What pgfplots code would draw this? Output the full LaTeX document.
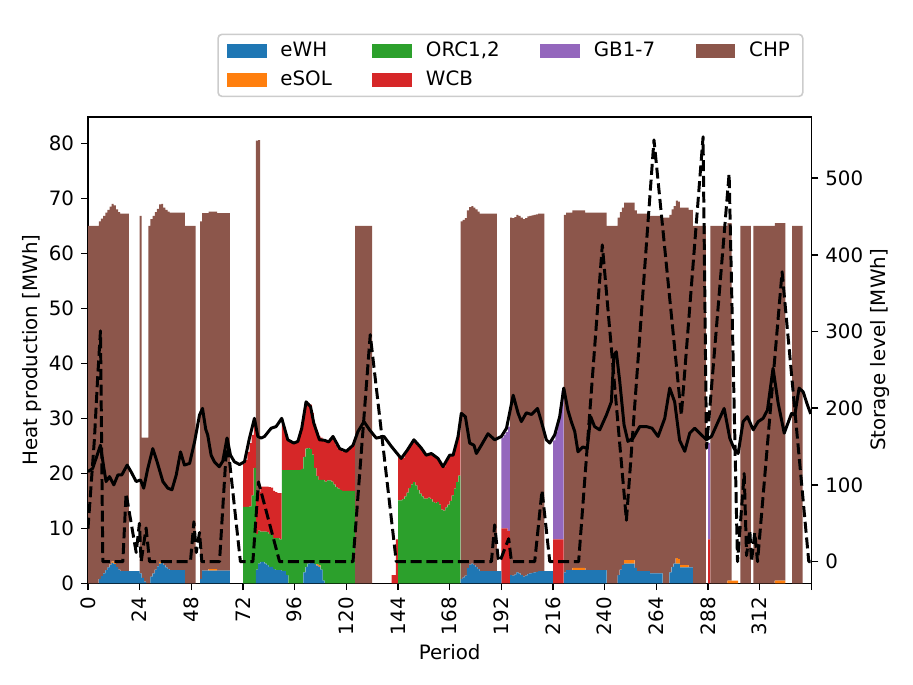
\documentclass[border=0pt]{standalone}
\usepackage{fontspec}
\setmainfont{DejaVu Sans}
\usepackage{pgfplots}
\usepackage{pgfplotstable}
\pgfplotsset{compat=1.18}
\definecolor{tabblue}{HTML}{1F77B4}
\definecolor{taborange}{HTML}{FF7F0E}
\definecolor{tabgreen}{HTML}{2CA02C}
\definecolor{tabred}{HTML}{D62728}
\definecolor{tabpurple}{HTML}{9467BD}
\definecolor{tabbrown}{HTML}{8C564B}

\pgfplotstableread{
p wh sol orc wcb gb chp
0 0 0 0 0 0 65
1 0 0 0 0 0 65
2 0 0 0 0 0 65
3 0 0 0 0 0 65
4 0 0 0 0 0 65
5 0.8 0 0 0 0 65
6 1.3 0 0 0 0 65
7 1.8 0 0 0 0 65
8 2.4 0 0 0 0 65
9 2.9 0 0 0 0 65
10 3.4 0.1 0 0 0 65
11 3.7 0.3 0 0 0 65
12 3.5 0.2 0 0 0 65
13 3.0 0 0 0 0 65
14 2.5 0 0 0 0 65
15 2.2 0 0 0 0 65
16 2.2 0 0 0 0 65
17 2.2 0 0 0 0 65
18 2.2 0 0 0 0 65
19 2.2 0 0 0 0 0
20 2.2 0 0 0 0 0
21 2.2 0 0 0 0 0
22 2.2 0 0 0 0 0
23 2.2 0 0 0 0 0
24 1.8 0 0 0 0 65
25 1.0 0 0 0 0 25.5
26 0.3 0 0 0 0 26.2
27 0 0 0 0 0 26.5
28 0 0 0 0 0 65
29 1.2 0 0 0 0 65
30 1.8 0 0 0 0 65
31 2.5 0 0 0 0 65
32 3.1 0 0 0 0 65
33 3.6 0.3 0 0 0 65
34 3.7 0.3 0 0 0 65
35 3.3 0 0 0 0 65
36 2.9 0 0 0 0 65
37 2.6 0 0 0 0 65
38 2.4 0 0 0 0 65
39 2.4 0 0 0 0 65
40 2.4 0 0 0 0 65
41 2.4 0 0 0 0 65
42 2.4 0 0 0 0 65
43 2.4 0 0 0 0 65
44 2.4 0 0 0 0 65
45 0 0 0 0 0 65
46 0 0 0 0 0 65
47 0 0 0 0 0 65
48 0 0 0 0 0 65
49 0 0 0 0 0 65
50 0 0 0 0 0 0
51 0 0 0 0 0 0
52 0.8 0 0 0 0 65
53 2.3 0 0 0 0 65
54 2.3 0 0 0 0 65
55 2.3 0 0 0 0 65
56 2.3 0.3 0 0 0 65
57 2.3 0.3 0 0 0 65
58 2.3 0.3 0 0 0 65
59 2.3 0.3 0 0 0 65
60 2.3 0 0 0 0 65
61 2.3 0 0 0 0 65
62 2.3 0 0 0 0 65
63 2.3 0 0 0 0 65
64 2.3 0 0 0 0 65
65 2.3 0 0 0 0 65
66 0 0 0 0 0 0
67 0 0 0 0 0 0
68 0 0 0 0 0 0
69 0 0 0 0 0 0
70 0 0 0 0 0 0
71 0 0 0 0 0 0
72 0 0 13.9 7.9 0 0
73 0 0 13.9 8.5 0 0
74 0 0 13.9 10 0 0
75 0 0 14 11.5 0 0
76 0 0 16 11 0 0
77 0 0 21 9 0 0
78 2.5 0 6.5 7 0 64.5
79 3.6 0 6 7 0 64
80 3.9 0 5.5 8.2 0 0
81 3.9 0 5.5 8.2 0 0
82 3.6 0 5.8 8.2 0 0
83 3.3 0 6.0 8.3 0 0
84 3.0 0 6.0 8.5 0 0
85 3.0 0 5.8 8.6 0 0
86 2.6 0 5.6 8.6 0 0
87 2.4 0 5.8 8.4 0 0
88 2.4 0 5.8 8.2 0 0
89 2.4 0 5.6 8.4 0 0
90 2.2 0 18.4 8.4 0 0
91 2.2 0 18.4 6.9 0 0
92 1.5 0 19.1 5.9 0 0
93 0 0 20.6 5.4 0 0
94 0 0 20.6 5.1 0 0
95 0 0 20.6 5.0 0 0
96 0 0 20.6 5.1 0 0
97 0 0 20.6 5.4 0 0
98 0 0 20.6 6.4 0 0
99 0 0 20.8 7.7 0 0
100 2.0 0 21 8 0 0
101 3.0 0 21.5 8.5 0 0
102 3.6 0 21 8.2 0 0
103 3.9 0 20.5 8.1 0 0
104 3.9 0 19.5 7.6 0 0
105 3.5 0 17.5 8 0 0
106 3.2 0.3 16 8 0 0
107 3.0 0.3 15.5 8 0 0
108 2.5 0 16.3 7.7 0 0
109 0.5 0 18.3 7.2 0 0
110 0 0 18.5 7.5 0 0
111 0 0 18.7 7.3 0 0
112 0 0 18.7 7.6 0 0
113 0 0 18.5 8.2 0 0
114 0 0 18 8 0 0
115 0 0 17.5 7.7 0 0
116 0 0 17.2 7.3 0 0
117 0 0 17 7.2 0 0
118 0 0 16.8 7.2 0 0
119 0 0 16.8 7.2 0 0
120 0 0 16.8 7.4 0 0
121 0 0 16.8 7.7 0 0
122 0 0 16.8 8 0 0
123 0 0 16.8 8.4 0 0
124 0 0 0 0 0 65
125 0 0 0 0 0 65
126 0 0 0 0 0 65
127 0 0 0 0 0 65
128 0 0 0 0 0 65
129 0 0 0 0 0 65
130 0 0 0 0 0 65
131 0 0 0 0 0 65
132 0 0 0 0 0 0
133 0 0 0 0 0 0
134 0 0 0 0 0 0
135 0 0 0 0 0 0
136 0 0 0 0 0 0
137 0 0 0 0 0 0
138 0 0 0 0 0 0
139 0 0 0 0 0 0
140 0 0 0 0 0 0
141 0 0 0 1.5 0 0
142 0 0 0 1.5 0 0
143 0 0 0 8 0 0
144 0 0 15.1 8.2 0 0
145 0 0 15.1 7.6 0 0
146 0 0 15.3 7.5 0 0
147 0 0 15.8 7.8 0 0
148 0 0 16.5 7.8 0 0
149 0 0 17.3 7.9 0 0
150 0 0 18 7.8 0 0
151 0 0 18.4 7.7 0 0
152 0 0 17.8 7.8 0 0
153 0 0 17 8 0 0
154 0 0 16.3 8.3 0 0
155 0 0 15.8 8.3 0 0
156 0 0 15.4 8.2 0 0
157 0 0 15.4 7.9 0 0
158 0 0 15.6 7.8 0 0
159 0 0 15.3 8.3 0 0
160 0 0 14.8 8.5 0 0
161 0 0 14.6 8.4 0 0
162 0 0 14.8 7.9 0 0
163 0 0 14.3 7.7 0 0
164 0 0 13.4 8 0 0
165 0 0 13.2 8 0 0
166 0 0 13.8 8.3 0 0
167 0 0 14.3 8.7 0 0
168 0 0 15 8.2 0 0
169 0 0 16 7.3 0 0
170 0 0 17.2 7.6 0 0
171 0 0 18.4 8.1 0 0
172 0 0 19.6 8.4 0 0
173 0.8 0 0 0 0 65
174 1.1 0 0 0 0 65
175 1.4 0 0 0 0 65
176 2.8 0 0 0 0 65
177 3.4 0 0 0 0 65
178 3.6 0 0 0 0 65
179 3.3 0 0 0 0 65
180 3.0 0 0 0 0 65
181 2.6 0 0 0 0 65
182 2.2 0 0 0 0 65
183 2.2 0 0 0 0 65
184 2.2 0 0 0 0 65
185 2.2 0 0 0 0 65
186 2.2 0 0 0 0 65
187 2.2 0 0 0 0 65
188 2.2 0 0 0 0 65
189 2.2 0 0 0 0 65
190 2.2 0 0 0 0 0
191 2.2 0 0 0 0 0
192 0 0 0 10 16.5 0
193 0 0 0 10 17 0
194 0 0 0 10 17.5 0
195 0 0 0 9.5 19 0
196 1.5 0 0 0 0 65
197 1.4 0 0 0 0 65
198 1.6 0 0 0 0 65
199 2.0 0 0 0 0 65
200 1.8 0 0 0 0 65
201 1.5 0 0 0 0 65
202 1.2 0 0 0 0 65
203 1.4 0 0 0 0 65
204 1.7 0 0 0 0 65
205 1.8 0 0 0 0 65
206 1.9 0 0 0 0 65
207 2.0 0 0 0 0 65
208 2.1 0 0 0 0 65
209 2.2 0 0 0 0 65
210 2.2 0 0 0 0 65
211 2.2 0 0 0 0 65
212 2.2 0 0 0 0 0
213 2.2 0 0 0 0 0
214 2.2 0 0 0 0 0
215 2.2 0 0 0 0 0
216 0 0 0 8 18 0
217 0 0 0 8 19.5 0
218 0 0 0 8 21.5 0
219 0 0 0 8 24 0
220 0 0 0 8 27 0
221 2.0 0 0 0 0 65
222 2.4 0 0 0 0 65
223 2.4 0 0 0 0 65
224 2.4 0 0 0 0 65
225 2.4 0.4 0 0 0 65
226 2.4 0.4 0 0 0 65
227 2.4 0.4 0 0 0 65
228 2.4 0.4 0 0 0 65
229 2.4 0.4 0 0 0 65
230 2.4 0.4 0 0 0 65
231 2.4 0 0 0 0 65
232 2.4 0 0 0 0 65
233 2.4 0 0 0 0 65
234 2.4 0 0 0 0 65
235 2.4 0 0 0 0 65
236 2.4 0 0 0 0 65
237 2.4 0 0 0 0 65
238 2.4 0 0 0 0 65
239 2.4 0 0 0 0 65
240 2.4 0 0 0 0 65
241 0 0 0 0 0 65
242 0 0 0 0 0 65
243 0 0 0 0 0 65
244 0 0 0 0 0 65
245 0 0 0 0 0 65
246 1.5 0 0 0 0 65
247 2.5 0 0 0 0 65
248 3.3 0 0 0 0 65
249 3.6 0.6 0 0 0 65
250 3.6 0.6 0 0 0 65
251 3.6 0.6 0 0 0 65
252 3.6 0.6 0 0 0 65
253 3.6 0.6 0 0 0 65
254 2.8 0 0 0 0 65
255 2.2 0 0 0 0 65
256 2.2 0 0 0 0 65
257 2.2 0 0 0 0 65
258 2.2 0 0 0 0 65
259 2.2 0 0 0 0 65
260 2.2 0 0 0 0 65
261 1.8 0 0 0 0 65
262 1.8 0 0 0 0 65
263 1.8 0 0 0 0 65
264 1.8 0 0 0 0 65
265 1.8 0 0 0 0 65
266 1.8 0 0 0 0 65
267 0 0 0 0 0 66.5
268 0 0 0 0 0 66.5
269 0 0 0 0 0 66.5
270 2.0 0 0 0 0 65
271 3.0 0 0 0 0 65
272 3.6 0 0 0 0 65
273 3.6 1.0 0 0 0 65
274 3.6 0.8 0 0 0 65
275 2.9 0.4 0 0 0 65
276 2.9 0.4 0 0 0 65
277 2.9 0.4 0 0 0 65
278 2.9 0.4 0 0 0 65
279 2.9 0 0 0 0 65
280 2.9 0 0 0 0 65
281 0 0 0 0 0 65
282 0 0 0 0 0 65
283 0 0 0 0 0 65
284 0 0 0 0 0 65
285 0 0 0 0 0 65
286 0 0 0 0 0 65
287 0 0 0 0 0 0
288 0 0 0 8 17.5 0
289 0 0 0 0 0 65
290 0 0 0 0 0 65
291 0 0 0 0 0 65
292 0 0 0 0 0 65
293 0 0 0 0 0 65
294 0 0 0 0 0 65
295 0 0 0 0 0 65
296 0 0 0 0 0 65
297 0 0.5 0 0 0 65
298 0 0.5 0 0 0 65
299 0 0.5 0 0 0 0
300 0 0.5 0 0 0 0
301 0 0.5 0 0 0 0
302 0 0 0 0 0 0
303 0 0 0 0 0 65
304 0 0 0 0 0 65
305 0 0 0 0 0 65
306 0 0 0 0 0 65
307 0 0 0 0 0 65
308 0 0 0 0 0 0
309 0 0 0 0 0 65
310 0 0 0 0 0 65
311 0 0 0 0 0 65
312 0 0 0 0 0 65
313 0 0 0 0 0 65
314 0 0 0 0 0 65
315 0 0 0 0 0 65
316 0 0 0 0 0 65
317 0 0 0 0 0 65
318 0 0 0 0 0 65
319 0 0.5 0 0 0 65
320 0 0.5 0 0 0 65
321 0 0.5 0 0 0 65
322 0 0.5 0 0 0 65
323 0 0.5 0 0 0 65
324 0 0 0 0 0 0
325 0 0 0 0 0 0
326 0 0 0 0 0 0
327 0 0 0 0 0 65
328 0 0 0 0 0 65
329 0 0 0 0 0 65
330 0 0 0 0 0 65
331 0 0 0 0 0 65
332 0 0 0 0 0 0
333 0 0 0 0 0 0
334 0 0 0 0 0 0
335 0 0 0 0 0 0
}\prodtable

\pgfplotstableread{
t d
0 20.3
2.2 20.9
5.8 25.1
7.4 20.9
8.4 18.5
10 19.4
12 17.9
13.9 19.7
15.7 19.7
18.2 21.5
20 20.3
22.4 18.5
24.4 18.8
25.9 17.3
27.8 20.9
30.1 24.5
32.1 22.1
34.8 18.5
37.1 17.3
39 17
41 19.7
43 23.9
44.8 21.5
47.2 21.8
49.5 25.7
51.8 30.6
53.2 31.8
54.7 28
55.6 27
57.2 23.3
58.7 22.1
61 21.2
62.6 22.2
64.6 26.4
66.2 23.3
68 22.1
70.4 21.6
72.7 22.1
75 26.4
77.3 30
78.9 26.7
80.4 26.4
82 26.7
85.1 28.2
87.4 28.5
90 30
92.8 26.1
95.6 25.5
97.5 25.8
99.3 28.2
101.3 33
103.4 32.1
104.9 29.1
107.5 26.1
109.9 26
111.8 25.7
113.8 26.7
116.9 24.5
120 24
123.1 25.1
125.4 27.6
128.2 29.4
130.8 27.9
133.9 26.4
137.5 26.7
140.9 24.9
145.5 22.7
148.3 24.2
151.4 26.1
154.8 24.6
157.1 23.3
159.5 23.6
162.6 22.7
164.9 21.2
168 23.3
169.6 23.3
171.9 26.7
173.4 30.9
175.3 30.3
177.3 25.5
179.3 25.1
180.4 23.6
182.7 25.1
185.8 27.2
188.9 26.1
192 26.7
194.4 28.2
197.5 34.2
199.8 30.9
201.3 29.4
203.6 31
206 30.7
208.8 31.8
210.6 29.4
212.9 26.1
214.5 25.5
216.8 27
219.1 30.3
221 35.5
222.9 31.5
224.5 29.4
226.1 27.6
227.6 23.9
229.9 24.8
231.9 24.5
233.5 30.3
235.3 28.5
237.7 27.9
240.8 30.6
243.1 33
244.3 41.5
245.4 42.1
247 36.7
249 28.8
250.8 25.8
253.2 26.4
256.3 28.5
259.4 28.5
262 28.2
264.8 26.7
267.9 30
270.2 35.5
272.5 33
274.8 26
277.2 24
279.5 27.3
281.8 28.2
284.9 27
287.3 26.1
289.6 26.7
292.7 29.4
295.5 31.8
298.1 26.4
300.1 24.5
302 23.6
304.3 29.4
306.3 30.3
309 27.9
311.3 29.4
313.6 30
315.6 31.5
318.2 39.1
320.6 32.7
323.4 27.3
326.8 30.9
328.3 30.6
330.3 35.5
332.2 34.8
334.2 32.4
335.7 30.8
}\demandtable

\pgfplotstableread{
t s
0 43
3 160
4.5 240
5.8 301
6.9 0
16.2 0
17.7 89
22.4 12
23.9 50
24.7 0
27 44
28.6 0
47.6 0
49.2 52
50.3 12
51.8 38
52.9 0
61.1 0
64.6 161
70.8 0
76.6 0
79.2 104
89 0
123.1 0
131.1 296
143.2 0
187.4 0
188.9 48
190.5 5
191.3 0
195.4 30
196.7 0
207.5 0
210.9 93
214.5 0
227.9 0
238.9 413
250.1 54
262.9 550
275.6 191
285.7 554
287.3 148
297.8 506
301.7 0
304.8 115
305.9 8
307.4 41
308.2 0
309.7 38
311 0
322.4 378
334.8 0
335.7 0
}\storagetable

\pgfplotsset{
  common/.style={
    scale only axis,
    at={(44.4pt,51.3pt)}, anchor=south west,
    width=365.1pt, height=235.5pt,
    xmin=0, xmax=336,
    tick align=outside,
    major tick length=3.5pt,
    every tick/.style={black, line width=0.8pt},
    axis line style={line width=0.8pt},
    /pgf/number format/assume math mode=true,
    tick label style={font=\fontsize{10}{12}\selectfont},
    label style={font=\fontsize{10}{12}\selectfont},
  }
}

\begin{document}
\fontsize{10}{12}\selectfont
\begin{tikzpicture}[x=1pt,y=1pt]
\path[use as bounding box] (0,0) rectangle (460.8,345.7);

\begin{axis}[common,
  ymin=0, ymax=84.84,
  ybar stacked, bar width=0.92,
  tick pos=left,
  xtick={0,24,48,72,96,120,144,168,192,216,240,264,288,312,336},
  xticklabels={0,24,48,72,96,120,144,168,192,216,240,264,288,312,{}},
  ytick={0,10,20,30,40,50,60,70,80},
  xticklabel style={rotate=90, anchor=east},
  xlabel={Period},
  ylabel={Heat production [MWh]},
  every axis x label/.style={at={(axis description cs:0.5,-0.147)}, anchor=center},
  every axis y label/.style={at={(axis description cs:-0.0772,0.5)}, rotate=90, anchor=center},
]
\addplot[fill=tabblue, draw=none] table[x expr=\thisrow{p}+0.5, y=wh] {\prodtable};
\addplot[fill=taborange, draw=none] table[x expr=\thisrow{p}+0.5, y=sol] {\prodtable};
\addplot[fill=tabgreen, draw=none] table[x expr=\thisrow{p}+0.5, y=orc] {\prodtable};
\addplot[fill=tabred, draw=none] table[x expr=\thisrow{p}+0.5, y=wcb] {\prodtable};
\addplot[fill=tabpurple, draw=none] table[x expr=\thisrow{p}+0.5, y=gb] {\prodtable};
\addplot[fill=tabbrown, draw=none] table[x expr=\thisrow{p}+0.5, y=chp] {\prodtable};
\end{axis}

\begin{axis}[common, hide axis,
  ymin=0, ymax=84.84,
]
\addplot[black, line width=1.5pt, line join=round] table[x=t, y=d] {\demandtable};
\end{axis}

\begin{axis}[common,
  axis x line=none, axis y line*=right,
  ymin=-28.2, ymax=580.2,
  ytick={0,100,200,300,400,500},
  ylabel={Storage level [MWh]},
  every axis y label/.style={at={(axis description cs:1.0947,0.5)}, rotate=90, anchor=center},
  legend columns=4,
  legend cell align=left,
  legend image code/.code={\fill[#1, sharp corners] (0pt,-3.5pt) rectangle (20pt,3.5pt);},
  legend style={at={(axis description cs:0.584,1.110)}, anchor=center,
    draw=black!20, line width=0.8pt, rounded corners=2pt, fill=white,
    font=\fontsize{10}{12}\selectfont,
    inner xsep=4.5pt, inner ysep=2pt, row sep=1.5pt,
    /tikz/every odd column/.append style={column sep=5pt},
    /tikz/every even column/.append style={column sep=18.5pt}},
]
\addplot[forget plot, black, line width=1.5pt, dash pattern=on 5.55pt off 2.4pt, line join=round] table[x=t, y=s] {\storagetable};
\addlegendimage{fill=tabblue, draw=none}
\addlegendentry{eWH}
\addlegendimage{fill=tabgreen, draw=none}
\addlegendentry{ORC1,2}
\addlegendimage{fill=tabpurple, draw=none}
\addlegendentry{GB1-7}
\addlegendimage{fill=tabbrown, draw=none}
\addlegendentry{CHP}
\addlegendimage{fill=taborange, draw=none}
\addlegendentry{eSOL}
\addlegendimage{fill=tabred, draw=none}
\addlegendentry{WCB}
\end{axis}
\end{tikzpicture}
\end{document}
